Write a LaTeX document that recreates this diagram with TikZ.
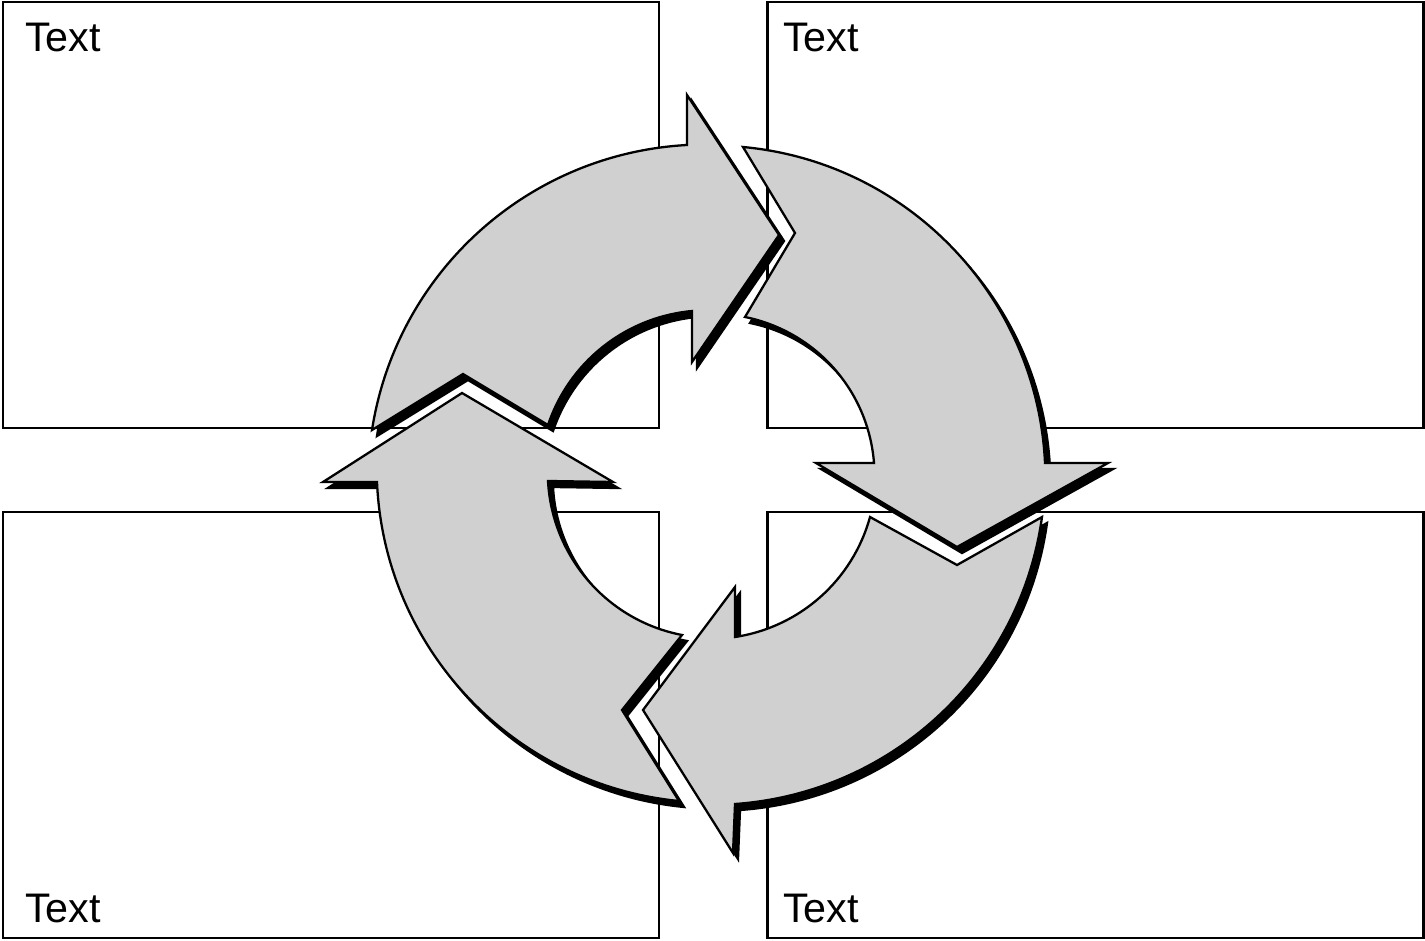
\documentclass[tikz,border=0pt]{standalone}
\usepackage{fontspec}
\setmainfont{Liberation Sans}
\definecolor{ringgray}{RGB}{208,208,208}
\begin{document}
\begin{tikzpicture}[x=0.02cm, y=0.02cm, line width=1.3pt,
    panel/.style={draw, rectangle, minimum width=13.12cm, minimum height=8.52cm, inner sep=0},
    caption/.style={anchor=base west, inner sep=0, font=\fontsize{23.5}{28}\selectfont},
    cast/.style={fill=black, draw=black},
    body/.style={fill=ringgray, draw=black}]
    \useasboundingbox (0,0) rectangle (1425,940);
    \node[panel] (tl) at (331,725) {};
    \node[panel] (tr) at (1095.5,725) {};
    \node[panel] (bl) at (331,215) {};
    \node[panel] (br) at (1095.5,215) {};
    \node[caption] (tltext) at (24,888) {Text};
    \node[caption] (trtext) at (782,888) {Text};
    \node[caption] (bltext) at (24,18) {Text};
    \node[caption] (brtext) at (782,18) {Text};
    \foreach \dx/\dy/\sty in {5/-6/cast, 0/0/body}{
        \begin{scope}[shift={(\dx,\dy)}]
            \draw[\sty] (687,795) to[bend right=39, looseness=0.96] (372,510) -- (463,566) -- (548,515)
                to[bend left=33, looseness=0.93] (692,629) -- (692,578) -- (779,705) -- (687,845) -- cycle;
            \draw[\sty] (1045,477) to[bend right=41, looseness=0.97] (743,793) -- (795,707) -- (745,623)
                to[bend left=37, looseness=0.95] (874,477) -- (816,477) -- (957,393) -- (1108,477) -- cycle;
            \draw[\sty] (735,136) to[bend right=39, looseness=0.96] (1042,423) -- (957,375) -- (870,423)
                to[bend left=33, looseness=0.93] (735,303) -- (735,353) -- (643,230) -- (733,87) -- cycle;
            \draw[\sty] (377,458) to[bend right=41, looseness=0.97] (679,139) -- (622,230) -- (682,305)
                to[bend left=38, looseness=0.95] (548,459) -- (613,458) -- (462,547) -- (323,458) -- cycle;
        \end{scope}
    }
\end{tikzpicture}
\end{document}
